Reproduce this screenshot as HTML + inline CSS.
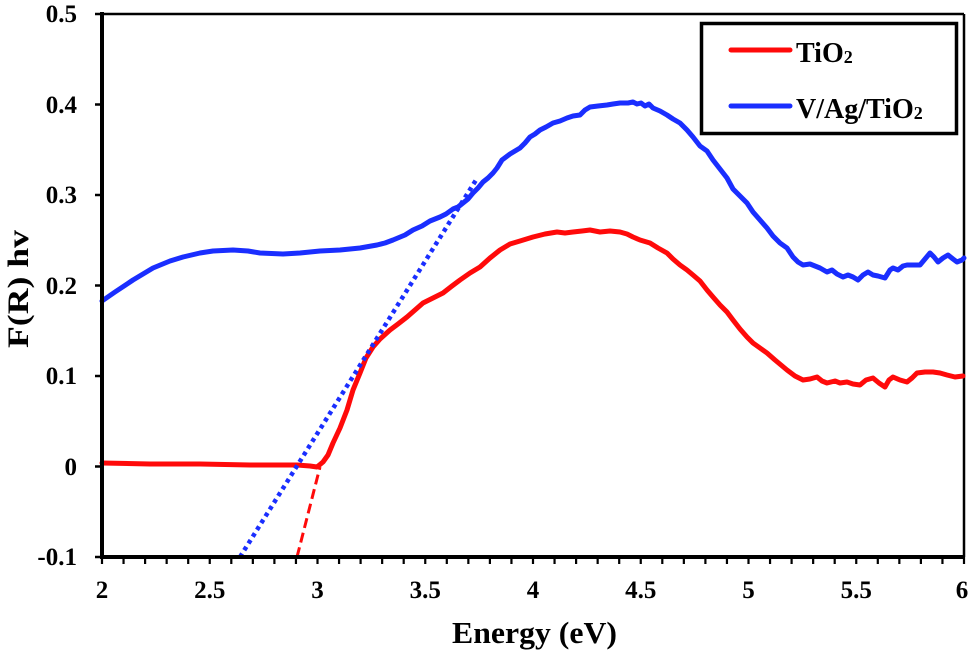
<!DOCTYPE html>
<html>
<head>
<meta charset="utf-8">
<style>
html,body{margin:0;padding:0;background:#fff;}
svg{display:block;}
text{font-family:"Liberation Serif","Times New Roman",serif;font-weight:bold;fill:#000;}
</style>
</head>
<body>
<svg width="971" height="655" viewBox="0 0 971 655" xmlns="http://www.w3.org/2000/svg">
<rect width="971" height="655" fill="#fff"/>
<!-- frame -->
<line x1="102" y1="14" x2="964" y2="14" stroke="#000" stroke-width="2.5"/>
<line x1="964" y1="14" x2="964" y2="557" stroke="#000" stroke-width="2.5"/>
<!-- y ticks -->
<g stroke="#000" stroke-width="2.5">
<line x1="95" y1="14" x2="102" y2="14"/>
<line x1="95" y1="104.5" x2="102" y2="104.5"/>
<line x1="95" y1="195" x2="102" y2="195"/>
<line x1="95" y1="285.5" x2="102" y2="285.5"/>
<line x1="95" y1="376" x2="102" y2="376"/>
<line x1="95" y1="466.5" x2="102" y2="466.5"/>
<line x1="95" y1="557" x2="102" y2="557"/>
</g>
<!-- x ticks every 0.1 -->
<g stroke="#000" stroke-width="2.2" id="xt">
<path d="M102 557v7M123.55 557v7M145.1 557v7M166.65 557v7M188.2 557v7M209.75 557v7M231.3 557v7M252.85 557v7M274.4 557v7M295.95 557v7M317.5 557v7M339.05 557v7M360.6 557v7M382.15 557v7M403.7 557v7M425.25 557v7M446.8 557v7M468.35 557v7M489.9 557v7M511.45 557v7M533 557v7M554.55 557v7M576.1 557v7M597.65 557v7M619.2 557v7M640.75 557v7M662.3 557v7M683.85 557v7M705.4 557v7M726.95 557v7M748.5 557v7M770.05 557v7M791.6 557v7M813.15 557v7M834.7 557v7M856.25 557v7M877.8 557v7M899.35 557v7M920.9 557v7M942.45 557v7M964 557v7"/>
</g>
<!-- curves -->
<polyline fill="none" stroke="#1a2eff" stroke-width="5" stroke-linejoin="round" stroke-linecap="round" points="102,301 115,292 133,280 153,268 170,261 183,257 200,253 213,251 233,250 248,251 260,253 283,254 300,253 320,251 340,250 360,248 377,245 385,243 393,240 405,235 413,230 422,226 430,221 440,217 446,214 453,209 458,207 463,203 468,199 473,193 478,188 483,182 488,178 493,173 497,168 502,160 510,154 520,148 525,143 530,137 535,134 540,130 546,127 553,123 560,121 567,118 573,116 580,115 585,110 590,107 598,106 607,105 613,104 620,103 628,103 633,102 637,104 641,103 645,106 649,104 653,108 660,111 667,115 673,119 680,123 687,130 693,137 700,146 707,151 713,160 720,169 727,178 733,189 740,196 747,203 753,212 760,220 767,228 773,236 780,243 787,248 793,257 798,262 803,265 810,264 815,266 820,268 827,272 832,270 837,274 843,277 848,275 853,277 858,280 863,275 868,272 873,275 878,276 885,278 890,270 893,268 898,270 903,266 907,265 913,265 920,265 925,259 930,253 934,257 938,262 943,258 948,255 953,259 957,262 962,260 964,258"/>
<polyline fill="none" stroke="#ff0a0a" stroke-width="5" stroke-linejoin="round" stroke-linecap="round" points="102,463 150,464 200,464 250,465 297,465 310,466 317,467 323,462 328,455 333,443 340,428 347,410 353,390 360,373 366,358 373,347 380,339 390,330 398,324 407,317 415,310 423,303 433,298 443,293 452,286 460,280 470,273 480,267 490,258 500,250 510,244 520,241 533,237 545,234 557,232 565,233 573,232 582,231 590,230 600,232 610,231 620,232 627,234 633,237 640,240 650,243 658,248 667,253 673,259 680,265 687,270 693,275 700,281 707,290 713,297 720,305 727,312 733,320 740,329 747,337 753,343 760,348 767,353 775,360 787,370 795,376 803,380 810,379 817,377 822,381 827,383 835,381 840,383 847,382 853,384 860,385 866,380 873,378 879,383 885,387 889,380 893,377 900,380 907,382 912,378 917,373 925,372 933,372 940,373 947,375 955,377 963,376"/>
<!-- tangent lines -->
<line x1="240" y1="557" x2="476" y2="180" stroke="#1a2eff" stroke-width="4.5" stroke-dasharray="4 4"/>
<line x1="297" y1="557" x2="320" y2="467" stroke="#ff0a0a" stroke-width="3" stroke-dasharray="10 5"/>
<!-- axes -->
<line x1="102" y1="12" x2="102" y2="559" stroke="#000" stroke-width="4"/>
<line x1="100" y1="557" x2="965" y2="557" stroke="#000" stroke-width="4"/>
<!-- y labels -->
<g font-size="25" text-anchor="end">
<text x="77" y="22">0.5</text>
<text x="77" y="113">0.4</text>
<text x="77" y="203">0.3</text>
<text x="77" y="294">0.2</text>
<text x="77" y="384">0.1</text>
<text x="77" y="475">0</text>
<text x="77" y="565">-0.1</text>
</g>
<!-- x labels -->
<g font-size="25" text-anchor="middle">
<text x="102" y="598">2</text>
<text x="209.75" y="598">2.5</text>
<text x="317.5" y="598">3</text>
<text x="425.25" y="598">3.5</text>
<text x="533" y="598">4</text>
<text x="640.75" y="598">4.5</text>
<text x="748.5" y="598">5</text>
<text x="856.25" y="598">5.5</text>
<text x="962" y="598">6</text>
</g>
<text x="534.5" y="643" font-size="31" text-anchor="middle" textLength="165" lengthAdjust="spacingAndGlyphs">Energy (eV)</text>
<text transform="translate(28,289) rotate(-90)" font-size="30" text-anchor="middle" textLength="118" lengthAdjust="spacingAndGlyphs">F(R) hv</text>
<!-- legend -->
<rect x="701.5" y="23.5" width="255" height="110" fill="#fff" stroke="#000" stroke-width="3.5"/>
<line x1="731" y1="50" x2="790" y2="50" stroke="#ff0a0a" stroke-width="5" stroke-linecap="round"/>
<line x1="731" y1="106" x2="790" y2="106" stroke="#1a2eff" stroke-width="5" stroke-linecap="round"/>
<text x="796" y="62" font-size="28">TiO<tspan font-size="18" dy="1">2</tspan></text>
<text x="796" y="118" font-size="28">V/Ag/TiO<tspan font-size="18" dy="1">2</tspan></text>
</svg>
</body>
</html>
